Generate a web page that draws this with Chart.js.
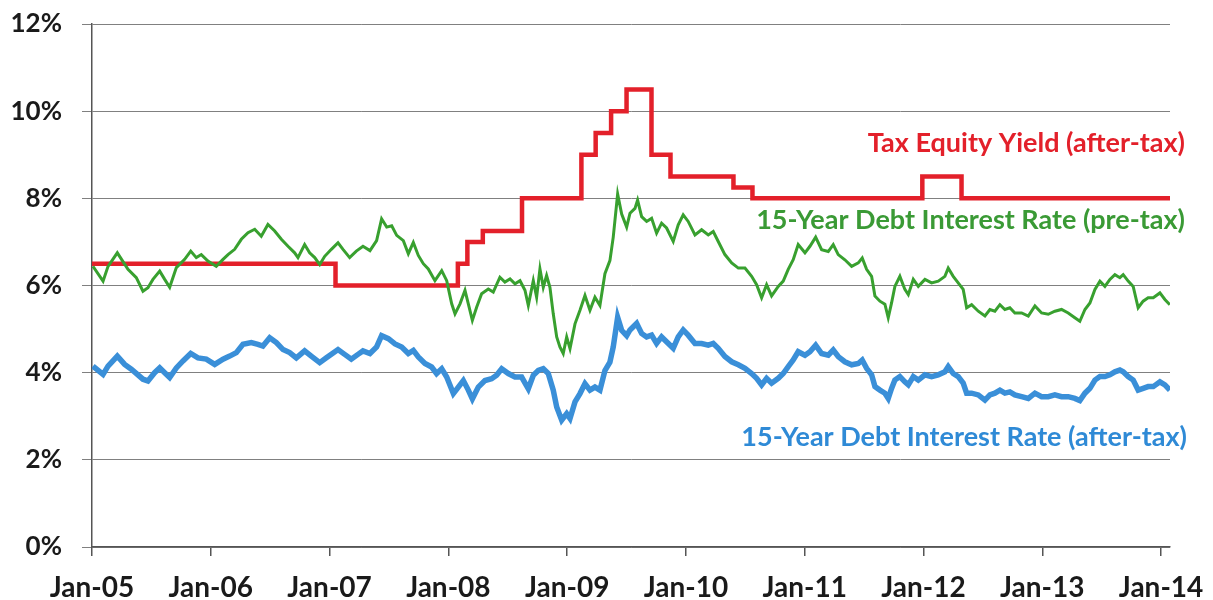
<!DOCTYPE html>
<html>
<head>
    <title>Tax Equity Yield vs Debt Interest Rate</title>
    <script src="https://cdn.jsdelivr.net/npm/chart.js"></script>
    <style>
        body { margin: 0; background: #fff; }
        .chart-container { position: relative; width: 1213px; height: 600px; }
    </style>
</head>
<body>
    <div class="chart-container">
        <canvas id="rateChart"></canvas>
    </div>

    <script>
        // x axis labels (one per January)
        var yearTicks = [2005, 2006, 2007, 2008, 2009, 2010, 2011, 2012, 2013, 2014];
        var yearLabels = ['Jan-05', 'Jan-06', 'Jan-07', 'Jan-08', 'Jan-09', 'Jan-10', 'Jan-11', 'Jan-12', 'Jan-13', 'Jan-14'];

        // Tax equity yield (after-tax), step changes: value starts at the given date
        var equityDates = [2005.0, 2007.05, 2008.08, 2008.16, 2008.29, 2008.62, 2009.12, 2009.24, 2009.37, 2009.50, 2009.71, 2009.87, 2010.40, 2010.56, 2011.99, 2012.32, 2014.08];
        var equityRates = [6.5, 6.0, 6.5, 7.0, 7.25, 8.0, 9.0, 9.5, 10.0, 10.5, 9.0, 8.5, 8.25, 8.0, 8.5, 8.0, 8.0];

        // 15-year debt interest rate (pre-tax)
        var preTaxDates = [
            2005.008, 2005.093, 2005.135, 2005.213, 2005.303, 2005.373, 2005.429, 2005.471, 2005.513, 2005.570,
            2005.612, 2005.654, 2005.710, 2005.780, 2005.831, 2005.878, 2005.920, 2005.976, 2006.046, 2006.103,
            2006.145, 2006.201, 2006.257, 2006.313, 2006.370, 2006.425, 2006.481, 2006.538, 2006.594, 2006.650,
            2006.706, 2006.734, 2006.790, 2006.832, 2006.875, 2006.917, 2006.959, 2007.015, 2007.071, 2007.113,
            2007.169, 2007.225, 2007.281, 2007.340, 2007.396, 2007.438, 2007.481, 2007.523, 2007.565, 2007.621,
            2007.663, 2007.705, 2007.747, 2007.789, 2007.831, 2007.887, 2007.944, 2007.986, 2008.028, 2008.056,
            2008.098, 2008.140, 2008.168, 2008.202, 2008.238, 2008.280, 2008.336, 2008.378, 2008.434, 2008.476,
            2008.519, 2008.561, 2008.603, 2008.645, 2008.673, 2008.715, 2008.743, 2008.771, 2008.799, 2008.827,
            2008.855, 2008.883, 2008.912, 2008.939, 2008.967, 2008.996, 2009.024, 2009.066, 2009.108, 2009.150,
            2009.192, 2009.234, 2009.276, 2009.318, 2009.360, 2009.388, 2009.425, 2009.459, 2009.501, 2009.529,
            2009.571, 2009.593, 2009.627, 2009.669, 2009.711, 2009.753, 2009.795, 2009.837, 2009.893, 2009.935,
            2009.977, 2010.019, 2010.076, 2010.132, 2010.188, 2010.230, 2010.272, 2010.328, 2010.385, 2010.441,
            2010.497, 2010.553, 2010.595, 2010.637, 2010.679, 2010.721, 2010.777, 2010.819, 2010.861, 2010.903,
            2010.945, 2011.002, 2011.044, 2011.092, 2011.142, 2011.198, 2011.240, 2011.282, 2011.338, 2011.395,
            2011.451, 2011.484, 2011.521, 2011.563, 2011.591, 2011.633, 2011.675, 2011.703, 2011.731, 2011.759,
            2011.801, 2011.843, 2011.872, 2011.914, 2011.956, 2012.012, 2012.068, 2012.124, 2012.180, 2012.208,
            2012.250, 2012.292, 2012.334, 2012.363, 2012.405, 2012.461, 2012.517, 2012.559, 2012.601, 2012.643,
            2012.685, 2012.727, 2012.769, 2012.826, 2012.882, 2012.938, 2012.994, 2013.050, 2013.106, 2013.162,
            2013.218, 2013.274, 2013.316, 2013.359, 2013.401, 2013.443, 2013.485, 2013.527, 2013.569, 2013.611,
            2013.653, 2013.681, 2013.723, 2013.765, 2013.807, 2013.849, 2013.891, 2013.934, 2013.990, 2014.032,
            2014.074
        ];
        var preTaxRates = [
            6.44, 6.10, 6.44, 6.75, 6.37, 6.18, 5.87, 5.95, 6.14, 6.33,
            6.14, 5.96, 6.41, 6.60, 6.79, 6.64, 6.71, 6.56, 6.44, 6.60,
            6.71, 6.83, 7.06, 7.21, 7.29, 7.13, 7.40, 7.25, 7.06, 6.90,
            6.75, 6.64, 6.94, 6.75, 6.64, 6.48, 6.67, 6.83, 6.98, 6.83,
            6.64, 6.79, 6.90, 6.80, 7.03, 7.53, 7.34, 7.37, 7.15, 7.03,
            6.73, 6.99, 6.69, 6.50, 6.38, 6.11, 6.34, 6.11, 5.58, 5.35,
            5.58, 5.89, 5.58, 5.20, 5.50, 5.81, 5.92, 5.85, 6.19, 6.08,
            6.15, 6.04, 6.11, 5.89, 5.54, 6.11, 5.73, 6.38, 5.96, 6.23,
            5.96, 5.35, 4.82, 4.59, 4.44, 4.82, 4.55, 5.12, 5.43, 5.77,
            5.43, 5.73, 5.54, 6.27, 6.57, 7.11, 8.10, 7.64, 7.34, 7.66,
            7.77, 7.96, 7.58, 7.47, 7.54, 7.20, 7.43, 7.32, 7.01, 7.39,
            7.62, 7.47, 7.16, 7.28, 7.16, 7.24, 7.01, 6.71, 6.52, 6.40,
            6.40, 6.21, 6.02, 5.72, 6.02, 5.76, 5.98, 6.10, 6.37, 6.59,
            6.94, 6.75, 6.90, 7.11, 6.82, 6.78, 6.94, 6.71, 6.59, 6.44,
            6.52, 6.63, 6.37, 6.21, 5.76, 5.64, 5.57, 5.26, 5.60, 5.98,
            6.21, 5.91, 5.79, 6.14, 5.98, 6.14, 6.06, 6.10, 6.21, 6.40,
            6.21, 6.06, 5.91, 5.49, 5.56, 5.41, 5.30, 5.45, 5.41, 5.56,
            5.45, 5.49, 5.37, 5.37, 5.30, 5.53, 5.37, 5.34, 5.41, 5.45,
            5.37, 5.26, 5.18, 5.45, 5.60, 5.91, 6.10, 5.98, 6.14, 6.25,
            6.18, 6.25, 6.10, 5.98, 5.49, 5.64, 5.72, 5.72, 5.83, 5.68,
            5.56
        ];

        // 15-year debt interest rate (after-tax)
        var afterTaxDates = [
            2005.008, 2005.093, 2005.135, 2005.213, 2005.275, 2005.331, 2005.429, 2005.471, 2005.527, 2005.570,
            2005.612, 2005.654, 2005.710, 2005.766, 2005.831, 2005.892, 2005.962, 2006.033, 2006.103, 2006.159,
            2006.215, 2006.271, 2006.341, 2006.397, 2006.439, 2006.496, 2006.552, 2006.608, 2006.664, 2006.720,
            2006.790, 2006.846, 2006.917, 2006.973, 2007.015, 2007.071, 2007.127, 2007.183, 2007.239, 2007.281,
            2007.340, 2007.396, 2007.438, 2007.495, 2007.551, 2007.607, 2007.663, 2007.705, 2007.747, 2007.803,
            2007.859, 2007.901, 2007.944, 2007.986, 2008.042, 2008.084, 2008.126, 2008.168, 2008.202, 2008.252,
            2008.308, 2008.364, 2008.406, 2008.449, 2008.505, 2008.561, 2008.617, 2008.673, 2008.715, 2008.757,
            2008.799, 2008.841, 2008.883, 2008.912, 2008.954, 2008.996, 2009.024, 2009.066, 2009.108, 2009.150,
            2009.192, 2009.234, 2009.276, 2009.318, 2009.360, 2009.388, 2009.425, 2009.459, 2009.501, 2009.529,
            2009.585, 2009.627, 2009.669, 2009.711, 2009.753, 2009.795, 2009.893, 2009.935, 2009.977, 2010.019,
            2010.076, 2010.132, 2010.188, 2010.230, 2010.272, 2010.328, 2010.385, 2010.441, 2010.497, 2010.553,
            2010.595, 2010.637, 2010.679, 2010.721, 2010.777, 2010.819, 2010.861, 2010.903, 2010.945, 2011.002,
            2011.044, 2011.092, 2011.142, 2011.198, 2011.240, 2011.282, 2011.338, 2011.395, 2011.451, 2011.484,
            2011.521, 2011.563, 2011.591, 2011.633, 2011.675, 2011.703, 2011.731, 2011.759, 2011.801, 2011.843,
            2011.872, 2011.914, 2011.956, 2012.012, 2012.068, 2012.124, 2012.180, 2012.208, 2012.250, 2012.292,
            2012.334, 2012.363, 2012.405, 2012.461, 2012.517, 2012.559, 2012.601, 2012.643, 2012.685, 2012.727,
            2012.769, 2012.826, 2012.882, 2012.938, 2012.994, 2013.050, 2013.106, 2013.162, 2013.218, 2013.274,
            2013.316, 2013.359, 2013.401, 2013.443, 2013.485, 2013.527, 2013.569, 2013.611, 2013.653, 2013.681,
            2013.723, 2013.765, 2013.807, 2013.849, 2013.891, 2013.934, 2013.990, 2014.032, 2014.074
        ];
        var afterTaxRates = [
            4.15, 3.96, 4.15, 4.38, 4.19, 4.08, 3.85, 3.81, 4.00, 4.11,
            4.00, 3.89, 4.11, 4.27, 4.44, 4.34, 4.31, 4.19, 4.31, 4.38,
            4.46, 4.65, 4.69, 4.65, 4.61, 4.80, 4.69, 4.53, 4.46, 4.34,
            4.50, 4.38, 4.23, 4.34, 4.42, 4.53, 4.42, 4.31, 4.42, 4.50,
            4.44, 4.59, 4.85, 4.78, 4.66, 4.59, 4.44, 4.51, 4.36, 4.21,
            4.13, 3.98, 4.09, 3.90, 3.52, 3.67, 3.82, 3.60, 3.40, 3.67,
            3.82, 3.86, 3.94, 4.09, 3.98, 3.90, 3.90, 3.63, 3.94, 4.05,
            4.09, 3.98, 3.60, 3.21, 2.91, 3.06, 2.95, 3.33, 3.52, 3.75,
            3.60, 3.67, 3.60, 4.05, 4.24, 4.59, 5.27, 4.97, 4.85, 4.98,
            5.13, 4.90, 4.82, 4.86, 4.67, 4.82, 4.56, 4.82, 4.98, 4.86,
            4.67, 4.67, 4.63, 4.67, 4.56, 4.37, 4.25, 4.18, 4.10, 3.98,
            3.87, 3.72, 3.87, 3.76, 3.87, 3.98, 4.14, 4.29, 4.48, 4.40,
            4.48, 4.63, 4.44, 4.40, 4.52, 4.37, 4.25, 4.18, 4.21, 4.29,
            4.10, 3.95, 3.68, 3.60, 3.53, 3.41, 3.64, 3.83, 3.91, 3.79,
            3.72, 3.91, 3.83, 3.95, 3.91, 3.95, 4.02, 4.14, 3.98, 3.91,
            3.76, 3.53, 3.53, 3.49, 3.37, 3.49, 3.53, 3.60, 3.53, 3.56,
            3.49, 3.45, 3.41, 3.53, 3.45, 3.45, 3.49, 3.45, 3.45, 3.41,
            3.36, 3.53, 3.64, 3.83, 3.91, 3.91, 3.95, 4.02, 4.06, 4.02,
            3.91, 3.83, 3.60, 3.64, 3.68, 3.68, 3.79, 3.72, 3.60
        ];

        var yTicks = [0, 2, 4, 6, 8, 10, 12];

        function toPoints(xs, ys) {
            return xs.map(function(x, i) { return { x: x, y: ys[i] }; });
        }

        var fontFamily = 'Lato, "Open Sans", sans-serif';

        // series labels drawn next to the lines
        var seriesLabels = {
            id: 'seriesLabels',
            afterDatasetsDraw: function(chart) {
                var ctx = chart.ctx;
                var y = chart.scales.y;
                var right = chart.chartArea.right + 15;
                ctx.save();
                ctx.textAlign = 'right';
                ctx.textBaseline = 'middle';
                ctx.font = 'bold 27px ' + fontFamily;
                ctx.fillStyle = '#e3202a';
                ctx.fillText('Tax Equity Yield (after-tax)', right, y.getPixelForValue(9.27));
                ctx.fillStyle = '#3a9a35';
                ctx.fillText('15-Year Debt Interest Rate (pre-tax)', right, y.getPixelForValue(7.5));
                ctx.fillStyle = '#2f8ad6';
                ctx.fillText('15-Year Debt Interest Rate (after-tax)', right + 2, y.getPixelForValue(2.52));
                ctx.restore();
            }
        };

        var ctx = document.getElementById('rateChart').getContext('2d');
        new Chart(ctx, {
            type: 'line',
            data: {
                datasets: [
                    {
                        label: '15-Year Debt Interest Rate (pre-tax)',
                        data: toPoints(preTaxDates, preTaxRates),
                        borderColor: '#38a02f',
                        borderWidth: 3,
                        pointRadius: 0,
                        order: 1
                    },
                    {
                        label: 'Tax Equity Yield (after-tax)',
                        data: toPoints(equityDates, equityRates),
                        borderColor: '#e3202a',
                        borderWidth: 4.5,
                        pointRadius: 0,
                        stepped: true,
                        order: 2
                    },
                    {
                        label: '15-Year Debt Interest Rate (after-tax)',
                        data: toPoints(afterTaxDates, afterTaxRates),
                        borderColor: '#3a8fd8',
                        borderWidth: 5.5,
                        pointRadius: 0,
                        order: 3
                    }
                ]
            },
            options: {
                responsive: true,
                maintainAspectRatio: false,
                animation: false,
                layout: { padding: { top: 24, right: 43, left: 0, bottom: 0 } },
                plugins: {
                    legend: { display: false },
                    tooltip: { enabled: false }
                },
                scales: {
                    x: {
                        type: 'linear',
                        min: 2005,
                        max: 2014.075,
                        afterBuildTicks: function(scale) {
                            scale.ticks = yearTicks.map(function(v) { return { value: v }; });
                        },
                        afterFit: function(scale) {
                            scale.height = 53;
                            scale.paddingLeft = 0;
                            scale.paddingRight = 0;
                        },
                        ticks: {
                            autoSkip: false,
                            maxRotation: 0,
                            padding: 15,
                            color: '#1a1a1a',
                            font: { family: fontFamily, size: 28, weight: 'bold' },
                            callback: function(value) {
                                var i = yearTicks.indexOf(value);
                                return i >= 0 ? yearLabels[i] : '';
                            }
                        },
                        grid: {
                            drawOnChartArea: false,
                            drawTicks: true,
                            tickLength: 9,
                            color: '#555',
                            lineWidth: 1.5
                        },
                        border: { color: '#555', width: 1.5 }
                    },
                    y: {
                        min: 0,
                        max: 12,
                        afterBuildTicks: function(scale) {
                            scale.ticks = yTicks.map(function(v) { return { value: v }; });
                        },
                        afterFit: function(scale) {
                            scale.width = 92;
                            scale.paddingTop = 0;
                            scale.paddingBottom = 0;
                        },
                        ticks: {
                            padding: 20,
                            color: '#1a1a1a',
                            font: { family: fontFamily, size: 26, weight: 'bold' },
                            callback: function(value) { return value + '%'; }
                        },
                        grid: {
                            color: '#808080',
                            lineWidth: 1,
                            tickLength: 10
                        },
                        border: { color: '#555', width: 1.5 }
                    }
                }
            },
            plugins: [seriesLabels]
        });
    </script>
</body>
</html>
